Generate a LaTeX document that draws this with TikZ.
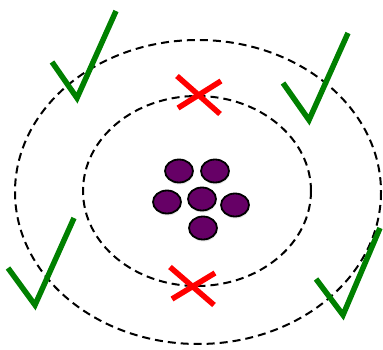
\documentclass[tikz,border=0pt]{standalone}
\usepackage{xcolor}
\usetikzlibrary{shapes.geometric,shadows}
\definecolor{dotpurple}{HTML}{660066}
\definecolor{tickgreen}{HTML}{008000}
\definecolor{crossred}{HTML}{FF0000}
\tikzset{
  ring/.style={draw=black,dash pattern=on 8pt off 5pt,line width=2pt},
  dot/.style={ellipse,draw=black,fill=dotpurple,line width=1.8pt,
              minimum width=28pt,minimum height=23pt,inner sep=0pt,
              drop shadow={opacity=0.2,shadow xshift=0.5pt,shadow yshift=-2pt}},
  tick/.style={draw=tickgreen,line width=5.5pt,line join=miter},
  cross/.style={draw=crossred,line width=5.5pt}
}
\begin{document}
\begin{tikzpicture}[x=1pt,y=-1pt]
    \path[use as bounding box] (0,0) rectangle (383,350);
    % the two dashed rings
    \draw[ring] (198,192) ellipse [x radius=183,y radius=152];
    \draw[ring] (197,191) ellipse [x radius=114,y radius=95];
    % the cluster
    \node[dot] (d1) at (179,171) {};
    \node[dot] (d2) at (215,171) {};
    \node[dot] (d3) at (167,202) {};
    \node[dot] (d4) at (202,199) {};
    \node[dot] (d5) at (235,205) {};
    \node[dot] (d6) at (203,228) {};
    % crosses on the inner ring
    \draw[cross] (177,76) -- (220,114) (221,81) -- (178,108);
    \draw[cross] (170,267) -- (214,305) (215,273) -- (172,299);
    % ticks on the outer ring
    \draw[tick] (52,62) -- (77,98) -- (116,11);
    \draw[tick] (283,83) -- (309,120) -- (348,33);
    \draw[tick] (8,268) -- (35,305) -- (74,218);
    \draw[tick] (316,279) -- (343,315) -- (380,228);
\end{tikzpicture}
\end{document}
